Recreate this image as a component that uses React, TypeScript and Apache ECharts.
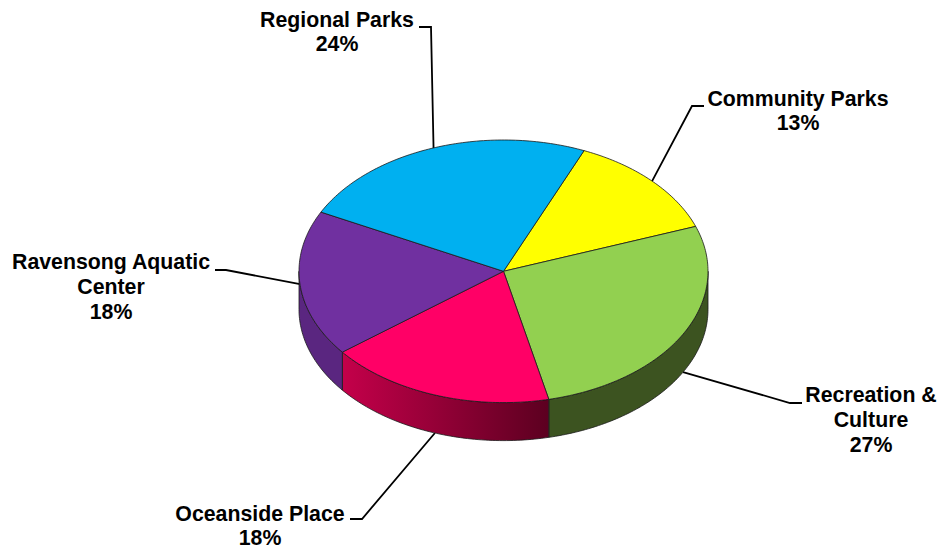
import React, { useEffect, useRef } from "react";
import * as echarts from "echarts";

// Share of the budget per department, clockwise from the top-right slice.
const departments = [
  "Community Parks",
  "Recreation &\nCulture",
  "Oceanside Place",
  "Ravensong Aquatic\nCenter",
  "Regional Parks",
];
const shares = [13, 27, 18, 18, 24];
const topColors = ["#ffff00", "#92d050", "#ff0066", "#7030a0", "#00b0f0"];
const wallColors = [
  ["#3c5320", "#3c5320"],
  ["#3c5320", "#3c5320"],
  ["#c4004a", "#5c0020"],
  ["#5a2680", "#5a2680"],
  ["#00b0f0", "#00b0f0"],
];

// Disc geometry in pixels.
const CX = 503.5;
const CY = 271.3;
const RX = 204.5;
const RY = 131.3;
const DEPTH = 38;
const START_ANGLE = 23.2;

// Leader routing and text placement for each label, in department order.
const labelLayout = [
  { knee: [692, 106], end: [704, 106], text: [798, 111], onWall: false },
  { knee: [790, 403], end: [802, 403], text: [871, 420], onWall: true },
  { knee: [362, 519], end: [350, 519], text: [260, 526], onWall: true },
  { knee: [226, 270], end: [215, 270], text: [111, 287], onWall: false },
  { knee: [431, 27], end: [419, 27], text: [337, 32], onWall: false },
];

const total = shares.reduce((a, b) => a + b, 0);

// Cumulative start/end angle of a slice, degrees clockwise from north.
function sliceAngles(i: number) {
  let a = START_ANGLE;
  for (let k = 0; k < i; k++) a += (shares[k] / total) * 360;
  return [a, a + (shares[i] / total) * 360];
}

function rimPoint(deg: number, drop = 0) {
  const r = (deg * Math.PI) / 180;
  return [CX + RX * Math.sin(r), CY - RY * Math.cos(r) + drop];
}

function arcPoints(from: number, to: number, drop = 0) {
  const pts: number[][] = [];
  const n = Math.max(2, Math.ceil(Math.abs(to - from)));
  for (let k = 0; k <= n; k++) pts.push(rimPoint(from + ((to - from) * k) / n, drop));
  return pts;
}

// Part of a slice's arc that faces the viewer (90..270 degrees).
function visibleWall(a0: number, a1: number) {
  const from = Math.max(a0, 90);
  const to = Math.min(a1, 270);
  return from < to ? [from, to] : null;
}

const renderWall = (params: any) => {
  const i = params.dataIndex;
  const [a0, a1] = sliceAngles(i);
  const span = visibleWall(a0, a1);
  if (!span) return { type: "group", children: [] };
  const upper = arcPoints(span[0], span[1]);
  const lower = arcPoints(span[1], span[0], DEPTH);
  const xs = upper.map((p) => p[0]);
  const x0 = Math.min(...xs);
  const x1 = Math.max(...xs);
  return {
    type: "polygon",
    shape: { points: [...upper, ...lower] },
    style: {
      fill: new echarts.graphic.LinearGradient(
        x0, 0, x1, 0,
        [
          { offset: 0, color: wallColors[i][0] },
          { offset: 1, color: wallColors[i][1] },
        ],
        true,
      ),
      stroke: "#1a1a1a",
      lineWidth: 0.8,
    },
  };
};

const renderTop = (params: any) => {
  const i = params.dataIndex;
  const [a0, a1] = sliceAngles(i);
  return {
    type: "polygon",
    shape: { points: [[CX, CY], ...arcPoints(a0, a1)] },
    style: { fill: topColors[i], stroke: "#1a1a1a", lineWidth: 0.8 },
  };
};

const renderLabel = (params: any) => {
  const i = params.dataIndex;
  const [a0, a1] = sliceAngles(i);
  const layout = labelLayout[i];
  const anchor = rimPoint((a0 + a1) / 2, layout.onWall ? DEPTH : 0);
  return {
    type: "group",
    children: [
      {
        type: "polyline",
        shape: { points: [anchor, layout.knee, layout.end] },
        style: { fill: "none", stroke: "#000000", lineWidth: 1.8 },
      },
      {
        type: "text",
        x: layout.text[0],
        y: layout.text[1],
        style: {
          text: `${departments[i]}\n${shares[i]}%`,
          fill: "#000000",
          font: 'bold 21.3px "Liberation Sans", Arial, sans-serif',
          lineHeight: 24.8,
          align: "center",
          verticalAlign: "middle",
        },
      },
    ],
  };
};

export default function App() {
  const ref = useRef<HTMLDivElement>(null);
  useEffect(() => {
    const chart = echarts.init(ref.current, null, { renderer: "svg" });
    const data = shares.map((v, i) => ({ name: departments[i], value: v }));
    chart.setOption({
      animation: false,
      backgroundColor: "#ffffff",
      series: [
        { type: "custom", coordinateSystem: "none", renderItem: renderLabel, data, z: 1, silent: true },
        { type: "custom", coordinateSystem: "none", renderItem: renderWall, data, z: 2, silent: true },
        { type: "custom", coordinateSystem: "none", renderItem: renderTop, data, z: 3, silent: true },
      ],
    });
    return () => chart.dispose();
  }, []);
  return <div ref={ref} style={{ position: "absolute", left: 0, top: 0, width: 940, height: 550 }} />;
}
